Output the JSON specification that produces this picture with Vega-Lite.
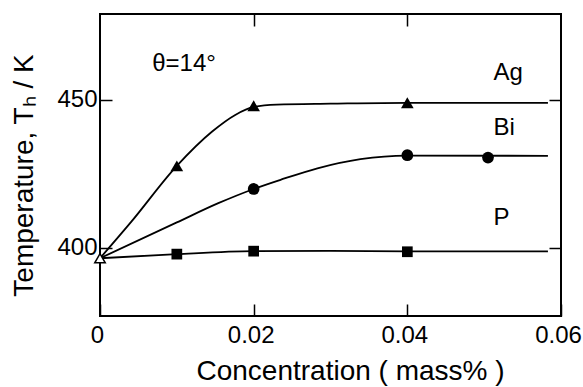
{
  "$schema": "https://vega.github.io/schema/vega-lite/v6.json",
  "width": 461,
  "height": 302,
  "autosize": "none",
  "padding": {"left": 100, "top": 14, "right": 22, "bottom": 71},
  "background": "white",
  "config": {
    "view": {"stroke": "black", "strokeWidth": 2},
    "font": "Liberation Sans",
    "axis": {
      "grid": false,
      "domain": false,
      "ticks": true,
      "tickColor": "black",
      "tickWidth": 1.5,
      "tickSize": -12,
      "labelColor": "black",
      "titleColor": "black",
      "labelFont": "Liberation Sans",
      "titleFont": "Liberation Sans",
      "labelFontSize": 24,
      "titleFontSize": 28,
      "titleFontWeight": "normal"
    }
  },
  "datasets": {
    "curves": [
      {"series": "Ag", "x": 0, "y": 396.5},
      {"series": "Ag", "x": 0.004, "y": 408.6},
      {"series": "Ag", "x": 0.01, "y": 427.7},
      {"series": "Ag", "x": 0.0146, "y": 439.3},
      {"series": "Ag", "x": 0.0176, "y": 444.9},
      {"series": "Ag", "x": 0.02, "y": 447.6},
      {"series": "Ag", "x": 0.023, "y": 448.4},
      {"series": "Ag", "x": 0.03, "y": 448.7},
      {"series": "Ag", "x": 0.04, "y": 449},
      {"series": "Ag", "x": 0.0583, "y": 449},
      {"series": "Bi", "x": 0, "y": 396.5},
      {"series": "Bi", "x": 0.01, "y": 408.6},
      {"series": "Bi", "x": 0.0154, "y": 415.1},
      {"series": "Bi", "x": 0.02, "y": 419.9},
      {"series": "Bi", "x": 0.0235, "y": 423},
      {"series": "Bi", "x": 0.0283, "y": 426.9},
      {"series": "Bi", "x": 0.0339, "y": 430},
      {"series": "Bi", "x": 0.04, "y": 431.2},
      {"series": "Bi", "x": 0.0583, "y": 431.1},
      {"series": "P", "x": 0, "y": 396.5},
      {"series": "P", "x": 0.01, "y": 397.9},
      {"series": "P", "x": 0.02, "y": 398.9},
      {"series": "P", "x": 0.03, "y": 399.0},
      {"series": "P", "x": 0.04, "y": 398.8},
      {"series": "P", "x": 0.0583, "y": 398.8}
    ],
    "points": [
      {"series": "Ag", "x": 0.01, "y": 427.7},
      {"series": "Ag", "x": 0.02, "y": 448},
      {"series": "Ag", "x": 0.04, "y": 449},
      {"series": "Bi", "x": 0.02, "y": 419.9},
      {"series": "Bi", "x": 0.04, "y": 431.3},
      {"series": "Bi", "x": 0.0505, "y": 430.5},
      {"series": "P", "x": 0.01, "y": 397.9},
      {"series": "P", "x": 0.02, "y": 398.9},
      {"series": "P", "x": 0.04, "y": 398.7}
    ],
    "origin": [
      {"x": 0, "y": 396.5}
    ],
    "labels": [
      {"x": 0.0068, "y": 462.2, "text": "θ=14°"},
      {"x": 0.0512, "y": 459, "text": "Ag"},
      {"x": 0.0512, "y": 440.4, "text": "Bi"},
      {"x": 0.0512, "y": 410, "text": "P"}
    ]
  },
  "layer": [
    {
      "data": {"name": "curves"},
      "mark": {"type": "line", "interpolate": "monotone", "color": "black", "strokeWidth": 1.8},
      "encoding": {
        "x": {
          "field": "x", "type": "quantitative",
          "scale": {"domain": [0, 0.06], "nice": false, "zero": false},
          "axis": {"orient": "bottom", "values": [0, 0.02, 0.04, 0.06], "format": "~g", "labelPadding": 19, "labelOffset": -3, "labelFlush": false, "title": "Concentration ( mass% )", "titlePadding": 10, "titleX": 250}
        },
        "y": {
          "field": "y", "type": "quantitative",
          "scale": {"domain": [377, 479], "nice": false, "zero": false},
          "axis": {"orient": "left", "values": [400, 450], "labelPadding": 15, "labelFlush": false, "title": "Temperature, Tₕ / K", "titlePadding": 18, "titleY": 161}
        },
        "detail": {"field": "series", "type": "nominal"}
      }
    },
    {
      "data": {"name": "points"},
      "mark": {"type": "point", "filled": true, "color": "black", "opacity": 1},
      "encoding": {
        "x": {"field": "x", "type": "quantitative", "axis": null},
        "y": {"field": "y", "type": "quantitative", "axis": null},
        "shape": {"field": "series", "type": "nominal", "scale": {"domain": ["Ag", "Bi", "P"], "range": ["triangle-up", "circle", "square"]}, "legend": null},
        "size": {"field": "series", "type": "nominal", "scale": {"domain": ["Ag", "Bi", "P"], "range": [160, 115, 100]}, "legend": null}
      }
    },
    {
      "data": {"name": "origin"},
      "mark": {"type": "point", "shape": "triangle-up", "size": 110, "filled": true, "fill": "white", "stroke": "black", "strokeWidth": 1.5, "opacity": 1},
      "encoding": {
        "x": {"field": "x", "type": "quantitative", "axis": null},
        "y": {"field": "y", "type": "quantitative", "axis": null}
      }
    },
    {
      "data": {"name": "labels"},
      "mark": {"type": "text", "align": "left", "baseline": "middle", "fontSize": 24, "font": "Liberation Sans", "color": "black"},
      "encoding": {
        "x": {"field": "x", "type": "quantitative", "axis": {"orient": "top", "values": [0.02, 0.04], "labels": false, "title": null}},
        "y": {"field": "y", "type": "quantitative", "axis": {"orient": "right", "values": [400, 450], "labels": false, "title": null}},
        "text": {"field": "text", "type": "nominal"}
      }
    }
  ],
  "resolve": {"axis": {"x": "independent", "y": "independent"}}
}
